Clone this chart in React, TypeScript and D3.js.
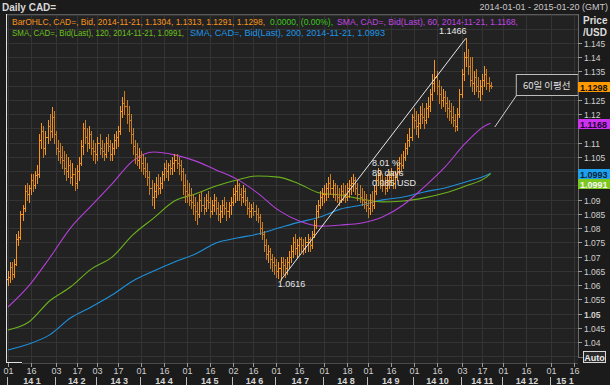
import React, { useEffect, useRef } from 'react';
import * as d3 from 'd3';

// calendar of the chart: weekdays from start to end
const startDate = '2014-01-01';
const endDate = '2015-01-20';

// daily OHLC bars, CAD= bid, one per weekday from 2014-01-01
const opens = [
  // Jan
  1.0620, 1.0630, 1.0665, 1.0640, 1.0675, 1.0760, 1.0770, 1.0850, 1.0870, 1.0930, 1.0920, 1.0940, 1.0970, 1.0950, 1.0985, 1.0990, 1.1110, 1.1140, 1.1080, 1.1120, 1.1160, 1.1140, 1.1190,
  // Feb
  1.1130, 1.1080, 1.1070, 1.1050, 1.1040, 1.1010, 1.1000, 1.1020, 1.0980, 1.0990, 1.0960, 1.1000, 1.1030, 1.1090, 1.1150, 1.1120, 1.1100, 1.1130, 1.1080, 1.1070,
  // Mar
  1.1060, 1.1100, 1.1080, 1.1070, 1.1060, 1.1100, 1.1090, 1.1060, 1.1080, 1.1110, 1.1120, 1.1140, 1.1210, 1.1240, 1.1230, 1.1200, 1.1180, 1.1130, 1.1090, 1.1060, 1.1040,
  // Apr
  1.1050, 1.1030, 1.1010, 1.1000, 1.0980, 1.0940, 1.0910, 1.0930, 1.0950, 1.0940, 1.0960, 1.0990, 1.1010, 1.1000, 1.1020, 1.1010, 1.1030, 1.1040, 1.1030, 1.1020, 1.1000, 1.0950,
  // May
  1.0930, 1.0920, 1.0900, 1.0890, 1.0880, 1.0860, 1.0850, 1.0900, 1.0880, 1.0870, 1.0900, 1.0890, 1.0860, 1.0880, 1.0900, 1.0870, 1.0850, 1.0860, 1.0880, 1.0870, 1.0860, 1.0880,
  // Jun
  1.0890, 1.0920, 1.0930, 1.0950, 1.0920, 1.0910, 1.0930, 1.0900, 1.0870, 1.0860, 1.0870, 1.0860, 1.0850, 1.0840, 1.0800, 1.0780, 1.0740, 1.0710, 1.0720, 1.0690, 1.0680,
  // Jul
  1.0670, 1.0650, 1.0660, 1.0680, 1.0670, 1.0660, 1.0680, 1.0700, 1.0720, 1.0750, 1.0730, 1.0740, 1.0760, 1.0740, 1.0730, 1.0750, 1.0760, 1.0740, 1.0780, 1.0810, 1.0860, 1.0880, 1.0910,
  // Aug
  1.0920, 1.0920, 1.0940, 1.0960, 1.0940, 1.0950, 1.0920, 1.0910, 1.0900, 1.0930, 1.0920, 1.0910, 1.0940, 1.0950, 1.0960, 1.0970, 1.0940, 1.0920, 1.0910, 1.0900, 1.0890,
  // Sep
  1.0880, 1.0870, 1.0890, 1.0880, 1.0930, 1.0970, 1.0990, 1.0960, 1.0950, 1.0940, 1.0970, 1.0980, 1.0990, 1.0960, 1.0980, 1.1010, 1.1030, 1.1020, 1.1050, 1.1080, 1.1110, 1.1120,
  // Oct
  1.1190, 1.1180, 1.1160, 1.1170, 1.1200, 1.1190, 1.1180, 1.1220, 1.1230, 1.1270, 1.1310, 1.1330, 1.1300, 1.1270, 1.1250, 1.1260, 1.1240, 1.1220, 1.1210, 1.1190, 1.1180, 1.1160, 1.1200,
  // Nov
  1.1270, 1.1340, 1.1400, 1.1400, 1.1370, 1.1320, 1.1310, 1.1330, 1.1300, 1.1280, 1.1300, 1.1320, 1.1340, 1.1310, 1.1304,
];
const highs = [
  1.0650, 1.0680, 1.0680, 1.0690, 1.0780, 1.0790, 1.0860, 1.0880, 1.0950, 1.0960, 1.0950, 1.0990, 1.0990, 1.1000, 1.1020, 1.1130, 1.1170, 1.1160, 1.1140, 1.1180, 1.1200, 1.1225, 1.1210,
  1.1140, 1.1110, 1.1100, 1.1090, 1.1070, 1.1060, 1.1050, 1.1040, 1.1030, 1.1010, 1.1020, 1.1050, 1.1110, 1.1170, 1.1180, 1.1150, 1.1160, 1.1140, 1.1110, 1.1100,
  1.1120, 1.1130, 1.1110, 1.1100, 1.1120, 1.1130, 1.1110, 1.1100, 1.1130, 1.1140, 1.1160, 1.1230, 1.1260, 1.1280, 1.1250, 1.1230, 1.1200, 1.1150, 1.1110, 1.1100, 1.1080,
  1.1070, 1.1060, 1.1050, 1.1030, 1.1000, 1.0970, 1.0960, 1.0980, 1.0990, 1.0980, 1.1000, 1.1030, 1.1040, 1.1030, 1.1040, 1.1050, 1.1060, 1.1060, 1.1050, 1.1040, 1.1010, 1.0990,
  1.0970, 1.0960, 1.0940, 1.0920, 1.0910, 1.0890, 1.0920, 1.0930, 1.0910, 1.0920, 1.0930, 1.0910, 1.0900, 1.0920, 1.0910, 1.0890, 1.0880, 1.0900, 1.0910, 1.0890, 1.0890, 1.0910,
  1.0940, 1.0950, 1.0970, 1.0960, 1.0940, 1.0950, 1.0940, 1.0910, 1.0890, 1.0885, 1.0890, 1.0880, 1.0870, 1.0850, 1.0820, 1.0790, 1.0760, 1.0740, 1.0730, 1.0710, 1.0700,
  1.0690, 1.0680, 1.0700, 1.0700, 1.0690, 1.0700, 1.0720, 1.0740, 1.0770, 1.0780, 1.0760, 1.0770, 1.0770, 1.0760, 1.0770, 1.0780, 1.0770, 1.0790, 1.0830, 1.0880, 1.0900, 1.0930, 1.0940,
  1.0950, 1.0960, 1.0980, 1.0990, 1.0970, 1.0960, 1.0950, 1.0940, 1.0950, 1.0960, 1.0950, 1.0960, 1.0970, 1.0980, 1.0990, 1.0980, 1.0960, 1.0950, 1.0940, 1.0930, 1.0920,
  1.0900, 1.0920, 1.0930, 1.0950, 1.0990, 1.1010, 1.1000, 1.0990, 1.0980, 1.0990, 1.1000, 1.1010, 1.1000, 1.1000, 1.1030, 1.1050, 1.1060, 1.1070, 1.1100, 1.1130, 1.1150, 1.1200,
  1.1220, 1.1210, 1.1200, 1.1230, 1.1240, 1.1220, 1.1240, 1.1260, 1.1290, 1.1340, 1.1390, 1.1350, 1.1320, 1.1300, 1.1290, 1.1280, 1.1260, 1.1250, 1.1240, 1.1230, 1.1200, 1.1220, 1.1290,
  1.1360, 1.1420, 1.1466, 1.1430, 1.1400, 1.1400, 1.1350, 1.1360, 1.1330, 1.1320, 1.1340, 1.1370, 1.1360, 1.1330, 1.1313,
];
const lows = [
  1.0600, 1.0610, 1.0620, 1.0630, 1.0670, 1.0740, 1.0760, 1.0830, 1.0860, 1.0900, 1.0890, 1.0920, 1.0930, 1.0940, 1.0960, 1.0980, 1.1080, 1.1050, 1.1060, 1.1100, 1.1110, 1.1120, 1.1100,
  1.1060, 1.1040, 1.1030, 1.1010, 1.0990, 1.0970, 1.0980, 1.0960, 1.0950, 1.0935, 1.0940, 1.0970, 1.1020, 1.1060, 1.1100, 1.1070, 1.1080, 1.1060, 1.1040, 1.1030,
  1.1040, 1.1060, 1.1050, 1.1040, 1.1050, 1.1070, 1.1040, 1.1040, 1.1060, 1.1080, 1.1090, 1.1130, 1.1190, 1.1200, 1.1170, 1.1140, 1.1100, 1.1060, 1.1030, 1.1020, 1.1010,
  1.1000, 1.0990, 1.0980, 1.0950, 1.0920, 1.0880, 1.0870, 1.0910, 1.0920, 1.0925, 1.0940, 1.0970, 1.0980, 1.0970, 1.0990, 1.0990, 1.1000, 1.1010, 1.0990, 1.0970, 1.0920, 1.0890,
  1.0890, 1.0880, 1.0870, 1.0850, 1.0830, 1.0815, 1.0840, 1.0860, 1.0850, 1.0860, 1.0870, 1.0840, 1.0850, 1.0860, 1.0850, 1.0830, 1.0820, 1.0840, 1.0850, 1.0830, 1.0840, 1.0850,
  1.0880, 1.0890, 1.0900, 1.0900, 1.0880, 1.0890, 1.0880, 1.0850, 1.0840, 1.0840, 1.0845, 1.0830, 1.0820, 1.0780, 1.0760, 1.0720, 1.0690, 1.0680, 1.0660, 1.0650, 1.0640,
  1.0630, 1.0625, 1.0616, 1.0640, 1.0630, 1.0640, 1.0660, 1.0680, 1.0700, 1.0710, 1.0700, 1.0710, 1.0720, 1.0710, 1.0715, 1.0720, 1.0720, 1.0730, 1.0770, 1.0800, 1.0840, 1.0870, 1.0880,
  1.0890, 1.0900, 1.0910, 1.0920, 1.0910, 1.0900, 1.0890, 1.0880, 1.0890, 1.0900, 1.0890, 1.0900, 1.0910, 1.0920, 1.0930, 1.0920, 1.0900, 1.0890, 1.0880, 1.0870, 1.0860,
  1.0840, 1.0850, 1.0860, 1.0870, 1.0920, 1.0950, 1.0940, 1.0930, 1.0920, 1.0930, 1.0940, 1.0950, 1.0940, 1.0940, 1.0970, 1.0990, 1.1000, 1.1010, 1.1040, 1.1060, 1.1090, 1.1110,
  1.1150, 1.1130, 1.1120, 1.1150, 1.1170, 1.1150, 1.1170, 1.1190, 1.1210, 1.1250, 1.1280, 1.1270, 1.1240, 1.1220, 1.1230, 1.1210, 1.1190, 1.1180, 1.1170, 1.1160, 1.1140, 1.1145, 1.1190,
  1.1260, 1.1320, 1.1370, 1.1340, 1.1300, 1.1280, 1.1270, 1.1280, 1.1260, 1.1250, 1.1270, 1.1300, 1.1290, 1.1280, 1.1291,
];
const closes = [
  1.0630, 1.0665, 1.0640, 1.0675, 1.0760, 1.0770, 1.0850, 1.0870, 1.0930, 1.0920, 1.0940, 1.0970, 1.0950, 1.0985, 1.0990, 1.1110, 1.1140, 1.1080, 1.1120, 1.1160, 1.1140, 1.1190, 1.1130,
  1.1080, 1.1070, 1.1050, 1.1040, 1.1010, 1.1000, 1.1020, 1.0980, 1.0990, 1.0960, 1.1000, 1.1030, 1.1090, 1.1150, 1.1120, 1.1100, 1.1130, 1.1080, 1.1070, 1.1060,
  1.1100, 1.1080, 1.1070, 1.1060, 1.1100, 1.1090, 1.1060, 1.1080, 1.1110, 1.1120, 1.1140, 1.1210, 1.1240, 1.1230, 1.1200, 1.1180, 1.1130, 1.1090, 1.1060, 1.1040, 1.1050,
  1.1030, 1.1010, 1.1000, 1.0980, 1.0940, 1.0910, 1.0930, 1.0950, 1.0940, 1.0960, 1.0990, 1.1010, 1.1000, 1.1020, 1.1010, 1.1030, 1.1040, 1.1030, 1.1020, 1.1000, 1.0950, 1.0930,
  1.0920, 1.0900, 1.0890, 1.0880, 1.0860, 1.0850, 1.0900, 1.0880, 1.0870, 1.0900, 1.0890, 1.0860, 1.0880, 1.0900, 1.0870, 1.0850, 1.0860, 1.0880, 1.0870, 1.0860, 1.0880, 1.0890,
  1.0920, 1.0930, 1.0950, 1.0920, 1.0910, 1.0930, 1.0900, 1.0870, 1.0860, 1.0870, 1.0860, 1.0850, 1.0840, 1.0800, 1.0780, 1.0740, 1.0710, 1.0720, 1.0690, 1.0680, 1.0670,
  1.0650, 1.0660, 1.0680, 1.0670, 1.0660, 1.0680, 1.0700, 1.0720, 1.0750, 1.0730, 1.0740, 1.0760, 1.0740, 1.0730, 1.0750, 1.0760, 1.0740, 1.0780, 1.0810, 1.0860, 1.0880, 1.0910, 1.0920,
  1.0920, 1.0940, 1.0960, 1.0940, 1.0950, 1.0920, 1.0910, 1.0900, 1.0930, 1.0920, 1.0910, 1.0940, 1.0950, 1.0960, 1.0970, 1.0940, 1.0920, 1.0910, 1.0900, 1.0890, 1.0880,
  1.0870, 1.0890, 1.0880, 1.0930, 1.0970, 1.0990, 1.0960, 1.0950, 1.0940, 1.0970, 1.0980, 1.0990, 1.0960, 1.0980, 1.1010, 1.1030, 1.1020, 1.1050, 1.1080, 1.1110, 1.1120, 1.1190,
  1.1180, 1.1160, 1.1170, 1.1200, 1.1190, 1.1180, 1.1220, 1.1230, 1.1270, 1.1310, 1.1330, 1.1300, 1.1270, 1.1250, 1.1260, 1.1240, 1.1220, 1.1210, 1.1190, 1.1180, 1.1160, 1.1200, 1.1270,
  1.1340, 1.1400, 1.1400, 1.1370, 1.1320, 1.1310, 1.1330, 1.1300, 1.1280, 1.1300, 1.1320, 1.1340, 1.1310, 1.1300, 1.1298,
];

// moving averages, read every 10th bar
const smaBars = [0, 10, 20, 30, 40, 50, 60, 70, 80, 90, 100, 110, 120, 130, 140, 150, 160, 170, 180, 190, 200, 210, 220, 230, 232];
const sma60 = [1.0523, 1.0597, 1.0695, 1.0800, 1.0878, 1.0955, 1.1036, 1.1067, 1.1057, 1.1036, 1.1004, 1.0972, 1.0923, 1.0863, 1.0825, 1.0807, 1.0811, 1.0818, 1.0839, 1.0881, 1.0944, 1.1014, 1.1099, 1.1162, 1.1168];
const sma120 = [1.0442, 1.0470, 1.0544, 1.0593, 1.0656, 1.0698, 1.0776, 1.0835, 1.0895, 1.0920, 1.0948, 1.0969, 1.0983, 1.0979, 1.0955, 1.0923, 1.0916, 1.0902, 1.0892, 1.0895, 1.0906, 1.0923, 1.0948, 1.0979, 1.0991];
const sma200 = [1.0372, 1.0393, 1.0425, 1.0484, 1.0523, 1.0565, 1.0614, 1.0649, 1.0681, 1.0709, 1.0748, 1.0765, 1.0779, 1.0800, 1.0821, 1.0839, 1.0867, 1.0881, 1.0899, 1.0909, 1.0927, 1.0941, 1.0962, 1.0986, 1.0993];

// axes
const yTickLabels = ['1.04', '1.045', '1.05', '1.055', '1.06', '1.065', '1.07', '1.075', '1.08', '1.085', '1.09', '1.095', '1.1', '1.105', '1.11', '1.115', '1.12', '1.125', '1.13', '1.135', '1.14', '1.145'];
const dayTicks = ['2014-01-01', '2014-01-16', '2014-02-03', '2014-02-17', '2014-03-03', '2014-03-17', '2014-04-01', '2014-04-16', '2014-05-01', '2014-05-16', '2014-06-02', '2014-06-16', '2014-07-01', '2014-07-16', '2014-08-01', '2014-08-18', '2014-09-01', '2014-09-16', '2014-10-01', '2014-10-16', '2014-11-03', '2014-11-17', '2014-12-01', '2014-12-16', '2015-01-01', '2015-01-16'];
const monthStarts = ['2014-01-01', '2014-02-03', '2014-03-03', '2014-04-01', '2014-05-01', '2014-06-02', '2014-07-01', '2014-08-01', '2014-09-01', '2014-10-01', '2014-11-03', '2014-12-01', '2015-01-01'];
const monthLabels = ['14 1', '14 2', '14 3', '14 4', '14 5', '14 6', '14 7', '14 8', '14 9', '14 10', '14 11', '14 12', '15 1'];

// trend line from the July low to the November high
const trendLow = { bar: 131, value: 1.0616 };
const trendHigh = { bar: 220, value: 1.1466 };
const trendNotes = ['8.01 %', '89 days', '0.085 USD'];

const ORANGE = '#f7941d';
const ORANGE_DIM = '#c97d22';
const MAGENTA = '#b340d8';
const GREEN = '#6cb21e';
const BLUE = '#1e90dc';
const FONT = '"Liberation Sans", Arial, sans-serif';

const App = () => {
  const ref = useRef(null);

  useEffect(() => {
    const svg = d3.select(ref.current);
    svg.selectAll('*').remove();

    const fmt = d3.utcFormat('%Y-%m-%d');
    const days = d3.utcDay
      .range(new Date(startDate), d3.utcDay.offset(new Date(endDate), 1))
      .filter(d => d.getUTCDay() !== 0 && d.getUTCDay() !== 6)
      .map(fmt);

    const left = 6, right = 578, top = 14, bottom = 363;

    const x = d3.scalePoint().domain(days).range([8, 578]);
    const y = d3.scaleLinear().domain([1.04, 1.145]).range([342, 43]);
    const px = (v) => Math.round(v) + 0.5;

    // backgrounds
    svg.append('rect').attr('width', 610).attr('height', 385).attr('fill', '#1b1b1b');
    svg.append('rect')
      .attr('x', left).attr('y', top).attr('width', right - left).attr('height', bottom - top)
      .attr('fill', '#222222');

    svg.append('clipPath').attr('id', 'plotClip')
      .append('rect')
      .attr('x', left + 1).attr('y', top + 1).attr('width', right - left - 1).attr('height', bottom - top - 1);

    const plot = svg.append('g').attr('clip-path', 'url(#plotClip)');

    // grid
    const gridValues = [1.035, ...yTickLabels.map(Number), 1.15, 1.155];
    plot.selectAll('.hgrid').data(gridValues).enter().append('line')
      .attr('x1', left).attr('x2', right)
      .attr('y1', d => px(y(d))).attr('y2', d => px(y(d)))
      .attr('stroke', '#343434').attr('stroke-width', 1);
    plot.selectAll('.vgrid').data(dayTicks).enter().append('line')
      .attr('x1', d => px(x(d))).attr('x2', d => px(x(d)))
      .attr('y1', top).attr('y2', bottom)
      .attr('stroke', '#343434').attr('stroke-width', 1);

    // moving averages
    const smaLine = (vals) => d3.line()
      .x((d, i) => x(days[smaBars[i]]))
      .y(d => y(d))
      .curve(d3.curveMonotoneX)(vals);

    [[sma200, BLUE], [sma120, GREEN], [sma60, MAGENTA]].forEach(([vals, col]) => {
      plot.append('path')
        .attr('d', smaLine(vals))
        .attr('fill', 'none')
        .attr('stroke', col)
        .attr('stroke-width', 1.1);
    });

    // OHLC bars
    const bars = plot.append('g').attr('shape-rendering', 'crispEdges');
    highs.forEach((h, i) => {
      const cx = px(x(days[i]));
      const col = closes[i] >= opens[i] ? ORANGE : ORANGE_DIM;
      bars.append('line')
        .attr('x1', cx).attr('x2', cx)
        .attr('y1', Math.round(y(h))).attr('y2', Math.round(y(lows[i])) + 1)
        .attr('stroke', col);
      bars.append('line')
        .attr('x1', cx - 1.5).attr('x2', cx)
        .attr('y1', px(y(opens[i]))).attr('y2', px(y(opens[i])))
        .attr('stroke', col);
      bars.append('line')
        .attr('x1', cx).attr('x2', cx + 1.5)
        .attr('y1', px(y(closes[i]))).attr('y2', px(y(closes[i])))
        .attr('stroke', col);
    });

    // trend line and notes
    const tx1 = x(days[trendLow.bar]);
    const ty1 = y(trendLow.value);
    const tx2 = x(days[trendHigh.bar]);
    const ty2 = y(trendHigh.value);
    plot.append('line')
      .attr('x1', tx1).attr('y1', ty1).attr('x2', tx2).attr('y2', ty2)
      .attr('stroke', '#e8e8e8').attr('stroke-width', 1);
    plot.append('text')
      .attr('x', tx1 + 11).attr('y', ty1 + 7)
      .attr('text-anchor', 'middle')
      .attr('font-family', FONT).attr('font-size', 9).attr('fill', '#e6e6e6')
      .text(trendLow.value.toFixed(4));
    plot.append('text')
      .attr('x', tx2 - 13).attr('y', ty2 - 4)
      .attr('text-anchor', 'middle')
      .attr('font-family', FONT).attr('font-size', 9).attr('fill', '#e6e6e6')
      .text(trendHigh.value.toFixed(4));
    const mx = (tx1 + tx2) / 2;
    const my = (ty1 + ty2) / 2;
    trendNotes.forEach((t, i) => {
      plot.append('text')
        .attr('x', mx - 1).attr('y', my + 7 + i * 10)
        .attr('font-family', FONT).attr('font-size', 9).attr('fill', '#e6e6e6')
        .text(t);
    });

    // callout for the 60-day average
    const ax = x(days[234]);
    const ay = y(1.1155);
    plot.append('line')
      .attr('x1', ax).attr('y1', ay).attr('x2', ax + 22).attr('y2', ay - 32)
      .attr('stroke', '#d0d0d0').attr('stroke-width', 1);
    plot.append('rect')
      .attr('x', ax + 21.5).attr('y', ay - 52.5).attr('width', 62).attr('height', 21)
      .attr('fill', '#222222').attr('stroke', '#bdbdbd').attr('stroke-width', 1);
    plot.append('text')
      .attr('x', ax + 52).attr('y', ay - 38)
      .attr('text-anchor', 'middle')
      .attr('font-family', '"Noto Sans CJK KR", sans-serif').attr('font-size', 9.5).attr('fill', '#e0e0e0')
      .text('60일 이평선');

    // legend rows
    const legend = [
      { t: 'BarOHLC, CAD=, Bid, 2014-11-21, 1.1304, 1.1313, 1.1291, 1.1298,', c: ORANGE, x0: 12, x1: 265, row: 0 },
      { t: '0.0000, (0.00%),', c: '#3cc81e', x0: 270, x1: 333, row: 0 },
      { t: 'SMA, CAD=, Bid(Last), 60, 2014-11-21, 1.1168,', c: '#c046e6', x0: 337, x1: 518, row: 0 },
      { t: 'SMA, CAD=, Bid(Last), 120, 2014-11-21, 1.0991,', c: '#6cc01e', x0: 12, x1: 184, row: 1 },
      { t: 'SMA, CAD=, Bid(Last), 200, 2014-11-21, 1.0993', c: '#1e96e6', x0: 190, x1: 385, row: 1 },
    ];
    legend.forEach(l => {
      svg.append('text')
        .attr('x', l.x0).attr('y', 25 + l.row * 11)
        .attr('font-family', FONT).attr('font-size', 8.4).attr('fill', l.c)
        .attr('textLength', l.x1 - l.x0).attr('lengthAdjust', 'spacingAndGlyphs')
        .text(l.t);
    });

    // frame
    svg.append('line').attr('x1', left).attr('x2', right).attr('y1', top + 0.5).attr('y2', top + 0.5)
      .attr('stroke', '#5a5a5a');
    svg.append('line').attr('x1', left + 0.5).attr('x2', left + 0.5).attr('y1', top).attr('y2', bottom)
      .attr('stroke', '#e0e0e0');
    svg.append('line').attr('x1', left).attr('x2', left + 16).attr('y1', bottom - 0.5).attr('y2', bottom - 0.5)
      .attr('stroke', '#e0e0e0');
    svg.append('line').attr('x1', left + 16).attr('x2', right).attr('y1', bottom + 0.5).attr('y2', bottom + 0.5)
      .attr('stroke', '#4a4a4a');
    svg.append('line').attr('x1', right + 0.5).attr('x2', right + 0.5).attr('y1', top).attr('y2', 357)
      .attr('stroke', '#6a6a6a');
    svg.append('line').attr('x1', right).attr('x2', 583).attr('y1', 357.5).attr('y2', 357.5)
      .attr('stroke', '#6a6a6a');

    // header
    svg.append('text').attr('x', 2).attr('y', 11)
      .attr('font-family', FONT).attr('font-size', 10).attr('font-weight', 'bold').attr('fill', '#d8d8d8')
      .text('Daily CAD=');
    svg.append('text').attr('x', 608).attr('y', 10).attr('text-anchor', 'end')
      .attr('font-family', FONT).attr('font-size', 9).attr('fill', '#c8c8c8')
      .text('2014-01-01 - 2015-01-20 (GMT)');

    // last-value boxes
    const boxes = [
      { v: closes[closes.length - 1], bg: '#ff9900', fg: '#111', dy: 0 },
      { v: sma60[sma60.length - 1], bg: '#cc33ee', fg: '#220033', dy: 0 },
      { v: sma200[sma200.length - 1], bg: '#1ea0ec', fg: '#08243a', dy: 0 },
      { v: sma120[sma120.length - 1], bg: '#7cc81e', fg: '#f4f4f4', dy: 10 },
    ];
    const boxTops = boxes.map(b => Math.round(y(b.v) + b.dy - 4.5));

    // right axis
    svg.append('text').attr('x', 583).attr('y', 24)
      .attr('font-family', FONT).attr('font-size', 10).attr('font-weight', 'bold').attr('fill', '#dcdcdc')
      .text('Price');
    svg.append('text').attr('x', 583).attr('y', 36)
      .attr('font-family', FONT).attr('font-size', 10).attr('font-weight', 'bold').attr('fill', '#dcdcdc')
      .text('/USD');
    yTickLabels.forEach(t => {
      const yy = px(y(+t));
      svg.append('line').attr('x1', right).attr('x2', right + 4).attr('y1', yy).attr('y2', yy)
        .attr('stroke', '#9a9a9a');
      // labels sitting under a value box are covered in the original
      const covered = boxTops.some(bt => yy + 3 > bt && yy - 3 < bt + 10);
      if (covered) return;
      svg.append('text').attr('x', 584).attr('y', yy + 3)
        .attr('font-family', FONT).attr('font-size', 8.5)
        .attr('font-weight', t === '1.05' || t === '1.1' ? 'bold' : 'normal')
        .attr('fill', '#d0d0d0')
        .text(t);
    });

    boxes.forEach((b, i) => {
      svg.append('rect').attr('x', 578).attr('y', boxTops[i]).attr('width', 32).attr('height', 10)
        .attr('fill', b.bg);
      svg.append('text').attr('x', 580).attr('y', boxTops[i] + 8.5)
        .attr('font-family', FONT).attr('font-size', 9).attr('font-weight', 'bold').attr('fill', b.fg)
        .text(b.v.toFixed(4));
    });

    // Auto button
    svg.append('rect').attr('x', 583.5).attr('y', 351.5).attr('width', 22).attr('height', 11)
      .attr('fill', '#2a2a2a').attr('stroke', '#d8d8d8');
    svg.append('text').attr('x', 594.5).attr('y', 360.5).attr('text-anchor', 'middle')
      .attr('font-family', FONT).attr('font-size', 9).attr('font-weight', 'bold').attr('fill', '#ececec')
      .text('Auto');

    // bottom axis
    dayTicks.forEach(d => {
      const xx = px(x(d));
      svg.append('line').attr('x1', xx).attr('x2', xx).attr('y1', bottom).attr('y2', bottom + 4)
        .attr('stroke', '#9a9a9a');
      svg.append('text').attr('x', xx).attr('y', 374).attr('text-anchor', 'middle')
        .attr('font-family', FONT).attr('font-size', 9).attr('fill', '#cfcfcf')
        .text(d.slice(8));
    });
    monthStarts.forEach((d, i) => {
      const x0 = x(d) - 1;
      const x1 = i < monthStarts.length - 1 ? x(monthStarts[i + 1]) - 1 : right;
      svg.append('line').attr('x1', px(x0)).attr('x2', px(x0)).attr('y1', 377).attr('y2', 385)
        .attr('stroke', '#bdbdbd');
      svg.append('text').attr('x', (x0 + x1) / 2 + 1).attr('y', 384).attr('text-anchor', 'middle')
        .attr('font-family', FONT).attr('font-size', 9).attr('font-weight', 'bold').attr('fill', '#d8d8d8')
        .text(monthLabels[i]);
    });
  }, []);

  return (
    <svg ref={ref} width={610} height={385} style={{ position: 'absolute', left: 0, top: 0 }}></svg>
  );
};

export default App;
